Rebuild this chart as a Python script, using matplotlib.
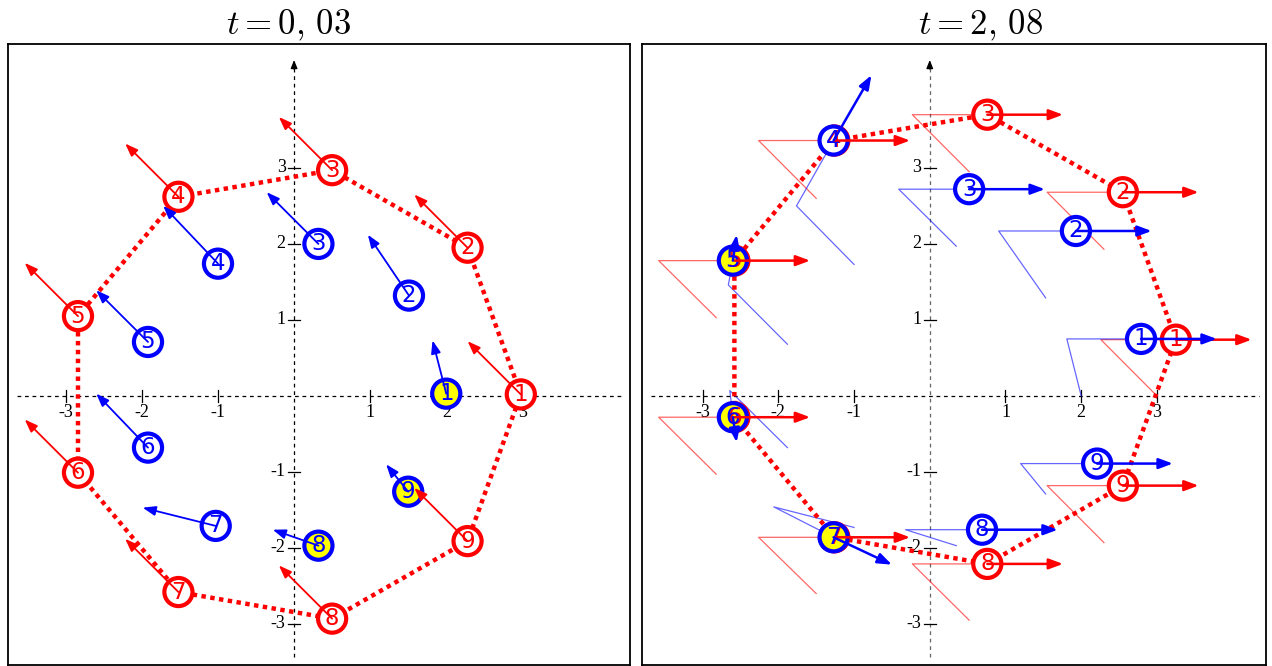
import matplotlib
matplotlib.use("Agg")
import matplotlib.pyplot as plt

plt.rcParams["mathtext.fontset"] = "cm"

TICKS = [-3, -2, -1, 1, 2, 3]
LABELS = ["1", "2", "3", "4", "5", "6", "7", "8", "9"]
RED = "#ff0000"
BLUE = "#0000ff"
YELLOW = "#ffff00"

# ---- t = 0,03 ----
red_pos_a = [(2.98, 0.02), (2.28, 1.95), (0.50, 2.97), (-1.52, 2.62), (-2.84, 1.05),
             (-2.84, -1.01), (-1.52, -2.58), (0.50, -2.93), (2.28, -1.91)]
red_vel_a = [(-0.70, 0.70), (-0.70, 0.70), (-0.70, 0.70), (-0.70, 0.70), (-0.70, 0.70),
             (-0.70, 0.70), (-0.70, 0.70), (-0.70, 0.70), (-0.70, 0.70)]
blue_pos_a = [(2.00, 0.03), (1.51, 1.32), (0.32, 2.00), (-1.00, 1.74), (-1.92, 0.71),
              (-1.92, -0.68), (-1.03, -1.71), (0.32, -1.97), (1.50, -1.26)]
blue_vel_a = [(-0.18, 0.70), (-0.54, 0.80), (-0.68, 0.68), (-0.72, 0.76), (-0.68, 0.68),
              (-0.68, 0.71), (-0.96, 0.24), (-0.60, 0.21), (-0.29, 0.36)]
blue_fill_a = [YELLOW, "white", "white", "white", "white", "white", "white", YELLOW, YELLOW]

# ---- t = 2,08 ----
red_start_b = [(3.00, 0.00), (2.30, 1.93), (0.52, 2.95), (-1.50, 2.60), (-2.82, 1.03),
               (-2.82, -1.03), (-1.50, -2.60), (0.52, -2.95), (2.30, -1.93)]
red_turn_b = [(2.26, 0.74), (1.55, 2.68), (-0.23, 3.70), (-2.26, 3.36), (-3.58, 1.78),
              (-3.58, -0.28), (-2.26, -1.86), (-0.23, -2.21), (1.55, -1.18)]
red_pos_b = [(3.25, 0.74), (2.55, 2.68), (0.76, 3.70), (-1.26, 3.36), (-2.58, 1.78),
             (-2.58, -0.28), (-1.26, -1.86), (0.76, -2.21), (2.55, -1.18)]
red_vel_b = [(1.0, 0.0), (1.0, 0.0), (1.0, 0.0), (1.0, 0.0), (1.0, 0.0),
             (1.0, 0.0), (1.0, 0.0), (1.0, 0.0), (1.0, 0.0)]
blue_start_b = [(2.00, 0.00), (1.53, 1.29), (0.35, 1.97), (-1.00, 1.73), (-1.88, 0.68),
                (-1.88, -0.68), (-1.00, -1.73), (0.35, -1.97), (1.53, -1.29)]
blue_turn_b = [(1.81, 0.75), (0.91, 2.17), (-0.41, 2.72), (-1.76, 2.50), (-2.66, 1.46),
               (-2.64, 0.07), (-2.06, -1.46), (-0.32, -1.76), (1.20, -0.89)]
blue_pos_b = [(2.79, 0.75), (1.93, 2.17), (0.52, 2.72), (-1.27, 3.36), (-2.60, 1.78),
              (-2.60, -0.28), (-1.27, -1.86), (0.69, -1.76), (2.21, -0.89)]
blue_vel_b = [(1.0, 0.0), (1.0, 0.0), (1.0, 0.0), (0.50, 0.86), (0.05, 0.34),
              (0.05, -0.33), (0.77, -0.36), (1.0, 0.0), (1.0, 0.0)]
blue_fill_b = ["white", "white", "white", "white", YELLOW, YELLOW, YELLOW, "white", "white"]


def draw_axes_cross(ax, xr, yr, ycolor):
    ax.plot(xr, [0, 0], color="black", lw=0.9, ls=(0, (3, 3)), zorder=1)
    ax.plot([0, 0], [yr[0], yr[1] - 0.1], color=ycolor, lw=0.9, ls=(0, (3, 3)), zorder=1)
    ax.annotate("", xy=(0, yr[1]), xytext=(0, yr[1] - 0.12),
                arrowprops=dict(arrowstyle="-|>,head_length=0.5,head_width=0.2",
                                color="black", lw=0.9, shrinkA=0, shrinkB=0,
                                mutation_scale=10), zorder=1)
    for v in TICKS:
        ax.plot([v, v], [-0.08, 0.08], color="black", lw=0.9, zorder=1)
        ax.text(v, -0.1, str(v), ha="center", va="top", fontsize=13,
                family="Liberation Serif", zorder=1)
        ax.plot([-0.08, 0.08], [v, v], color="black", lw=0.9, zorder=1)
        ax.text(-0.11, v, str(v), ha="right", va="center", fontsize=13,
                family="Liberation Serif", zorder=1)


def draw_arrows(ax, pos, vel, color, lw, ms):
    for (x, y), (u, v) in zip(pos, vel):
        ax.annotate("", xy=(x + u, y + v), xytext=(x, y),
                    arrowprops=dict(arrowstyle="-|>,head_length=0.7,head_width=0.26",
                                    color=color, lw=lw, shrinkA=0, shrinkB=0,
                                    mutation_scale=ms), zorder=6)


def draw_balls(ax, pos, fill, edge):
    xs = [p[0] for p in pos]
    ys = [p[1] for p in pos]
    ax.scatter(xs, ys, s=410, facecolors=fill, edgecolors=edge, linewidths=3.0, zorder=4)
    for (x, y), lab in zip(pos, LABELS):
        ax.text(x, y, lab, ha="center", va="center", fontsize=16.5, color=edge, zorder=5)


def draw_ring(ax, pos):
    xs = [p[0] for p in pos] + [pos[0][0]]
    ys = [p[1] for p in pos] + [pos[0][1]]
    ax.plot(xs, ys, color=RED, lw=3.2, ls=(0, (1, 1)), dash_capstyle="butt", zorder=3)


def draw_trails(ax, start, turn, pos, color):
    for s, c, p in zip(start, turn, pos):
        ax.plot([s[0], c[0], p[0]], [s[1], c[1], p[1]], color=color, lw=0.9,
                alpha=0.6, zorder=2)


fig = plt.figure(figsize=(12.72, 6.66), dpi=100)
axA = fig.add_axes([8 / 1272, 1 / 666, 622 / 1272, 621 / 666])
axB = fig.add_axes([642 / 1272, 1 / 666, 624 / 1272, 621 / 666])

for ax, xl in ((axA, (-3.76, 4.415)), (axB, (-3.80, 4.44))):
    ax.set_xlim(*xl)
    ax.set_ylim(-3.54, 4.63)
    ax.set_xticks([])
    ax.set_yticks([])
    for sp in ax.spines.values():
        sp.set_linewidth(1.3)
        sp.set_color("black")

# left panel
draw_axes_cross(axA, [-3.64, 4.31], [-3.43, 4.42], "black")
draw_ring(axA, red_pos_a)
draw_balls(axA, red_pos_a, ["white"] * 9, RED)
draw_balls(axA, blue_pos_a, blue_fill_a, BLUE)
draw_arrows(axA, red_pos_a, red_vel_a, RED, 1.3, 11)
draw_arrows(axA, blue_pos_a, blue_vel_a, BLUE, 1.3, 11)

# right panel
draw_axes_cross(axB, [-3.68, 4.35], [-3.43, 4.42], "#666666")
draw_trails(axB, red_start_b, red_turn_b, red_pos_b, RED)
draw_trails(axB, blue_start_b, blue_turn_b, blue_pos_b, BLUE)
draw_ring(axB, red_pos_b)
draw_balls(axB, red_pos_b, ["white"] * 9, RED)
draw_balls(axB, blue_pos_b, blue_fill_b, BLUE)
draw_arrows(axB, red_pos_b, red_vel_b, RED, 1.8, 12)
draw_arrows(axB, blue_pos_b, blue_vel_b, BLUE, 1.8, 12)

fig.text(289 / 1272, 1 - 34 / 666, r"$t = 0,\,03$", ha="center", va="baseline", fontsize=25)
fig.text(981 / 1272, 1 - 34 / 666, r"$t = 2,\,08$", ha="center", va="baseline", fontsize=25)

fig.savefig("out.png", dpi=100)
